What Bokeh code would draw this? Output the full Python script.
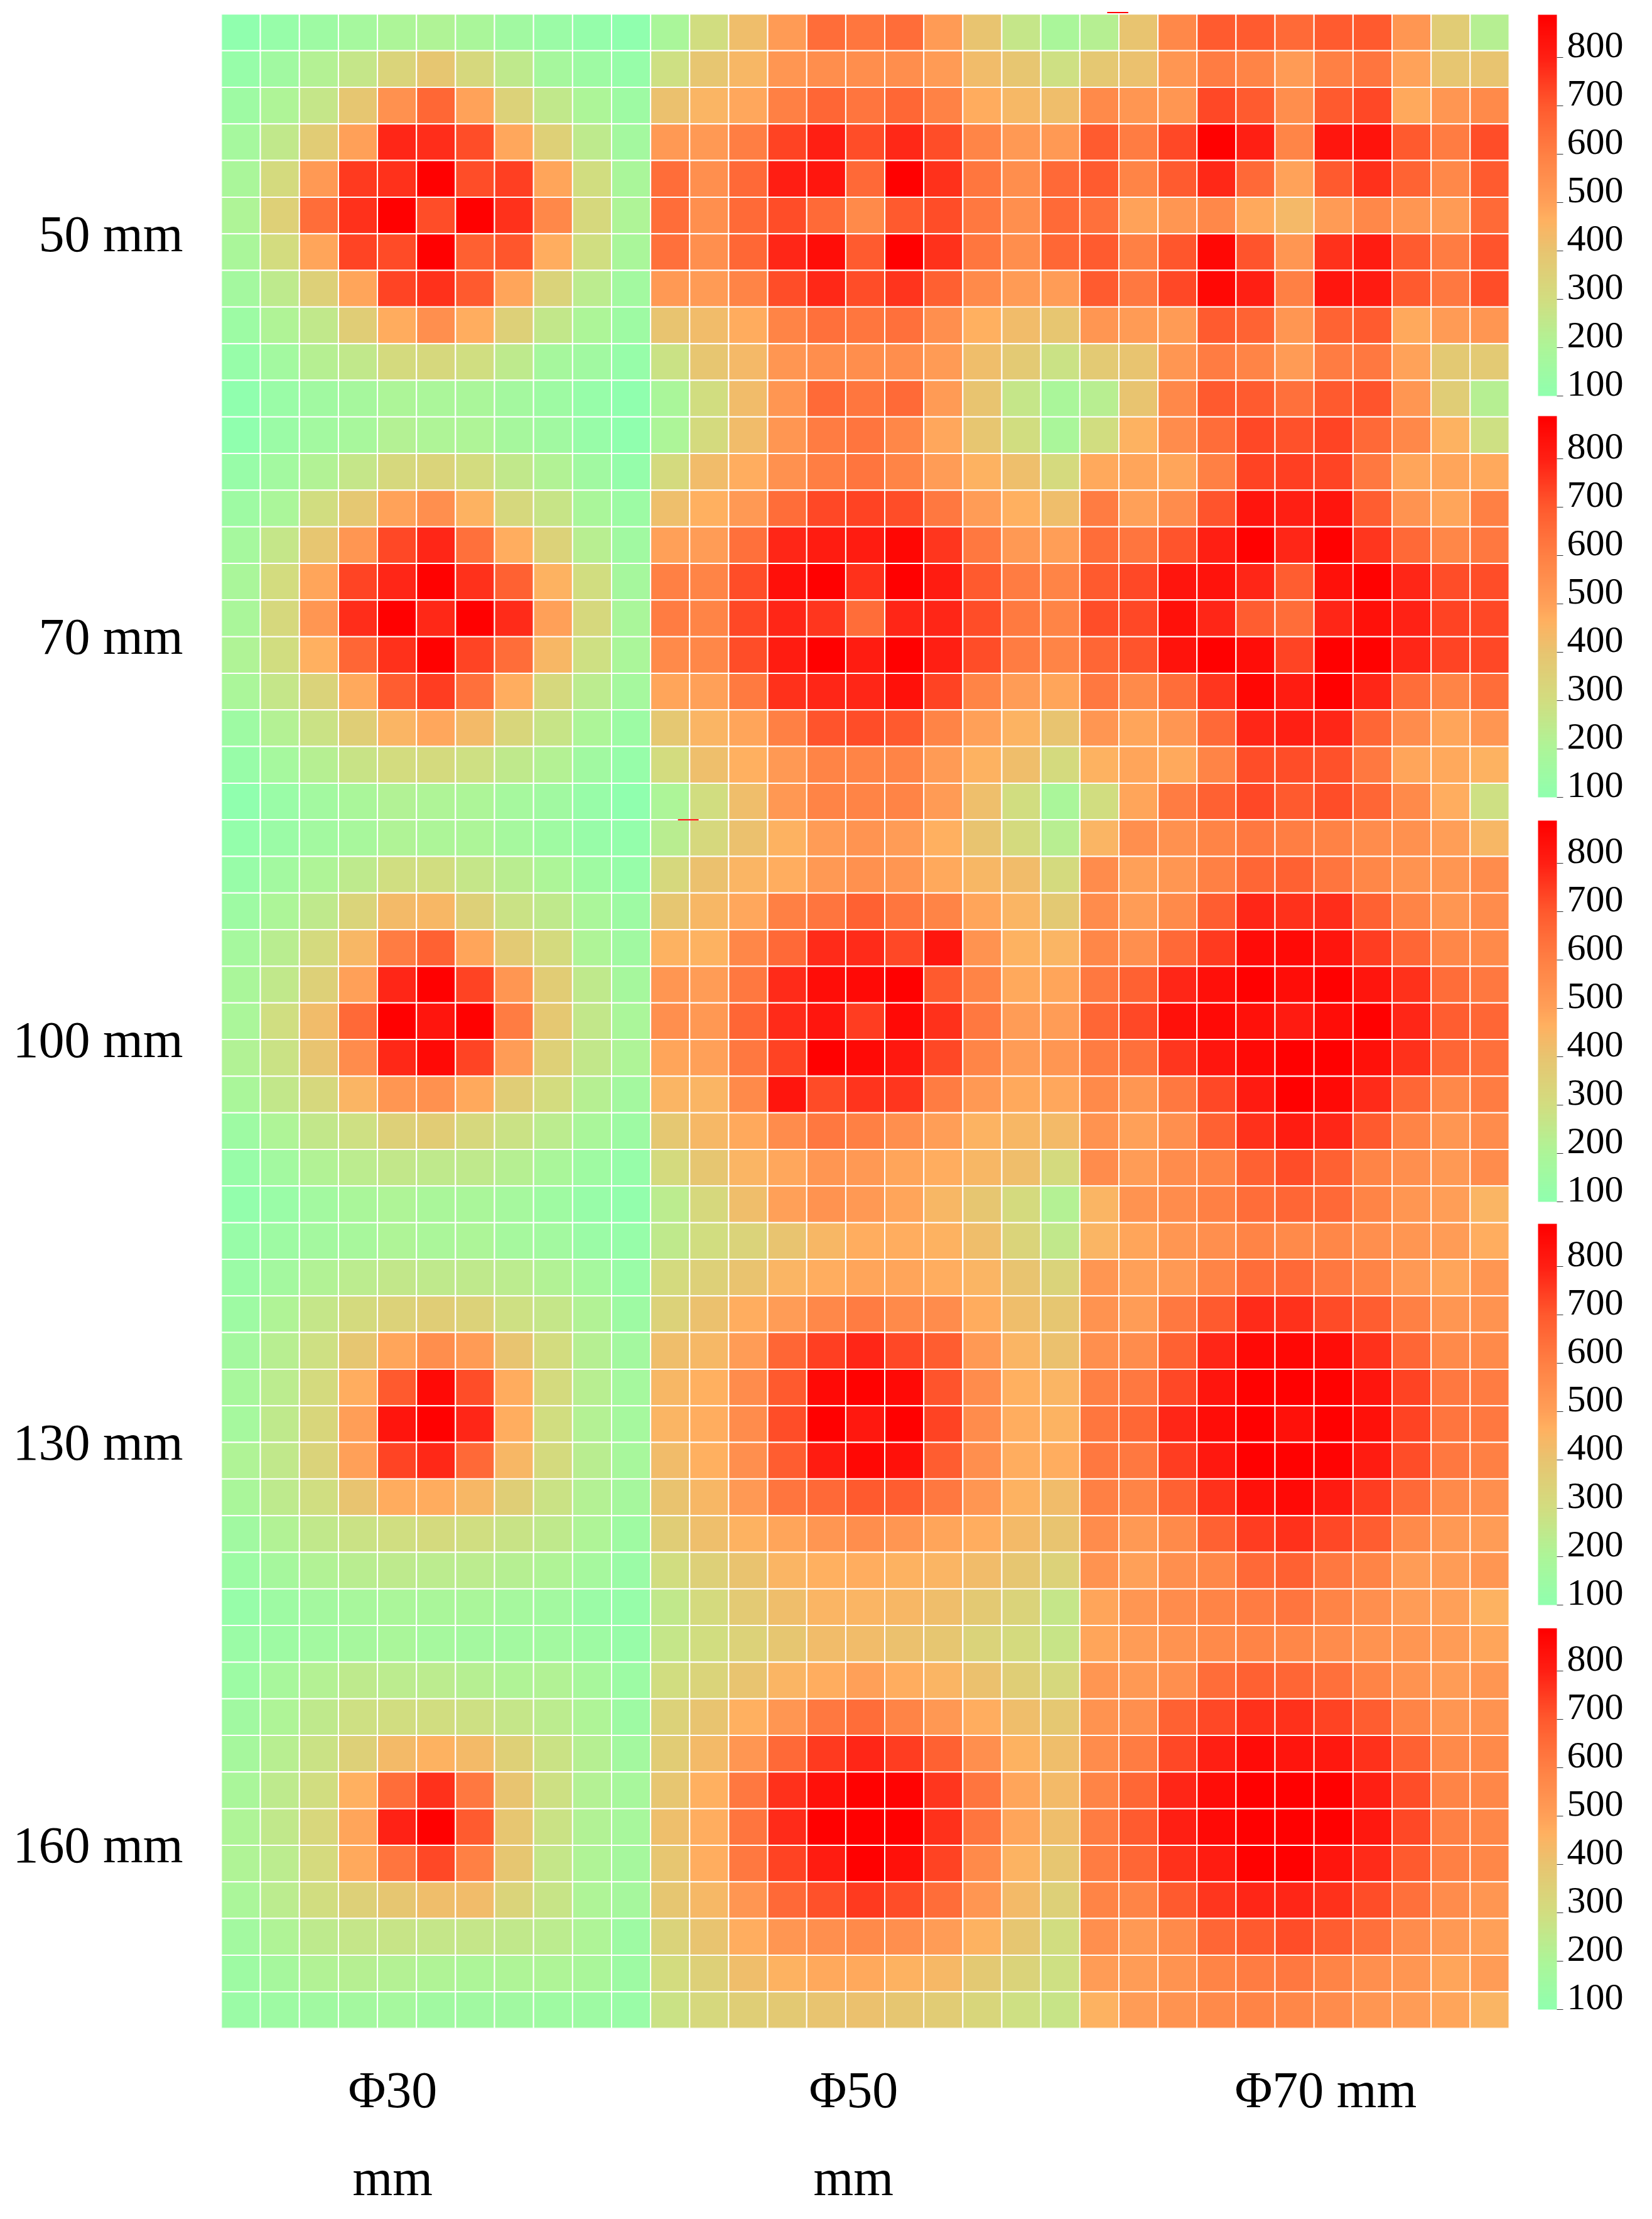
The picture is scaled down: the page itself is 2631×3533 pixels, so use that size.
import numpy as np
from bokeh.embed import file_html
from bokeh.models import (ColorBar, ColumnDataSource, FixedTicker, LinearAxis,
                          LinearColorMapper, Range1d)
from bokeh.plotting import figure
from bokeh.resources import INLINE
from bokeh.transform import transform

# rows run top to bottom, columns left to right inside one diameter block
h50_d30 = [
    [100, 125, 150, 175, 200, 210, 190, 160, 140, 120, 100],
    [125, 160, 220, 265, 335, 390, 320, 250, 180, 150, 125],
    [150, 205, 265, 390, 545, 665, 495, 345, 255, 200, 150],
    [175, 255, 370, 500, 790, 775, 720, 485, 355, 245, 170],
    [190, 310, 520, 755, 770, 885, 720, 745, 490, 300, 190],
    [205, 355, 650, 770, 885, 720, 885, 770, 575, 320, 205],
    [190, 305, 490, 735, 725, 885, 685, 705, 470, 295, 190],
    [170, 245, 350, 490, 735, 770, 700, 490, 340, 240, 165],
    [145, 210, 255, 365, 475, 550, 470, 350, 260, 200, 150],
    [125, 165, 225, 255, 310, 320, 295, 245, 180, 160, 125],
    [100, 135, 160, 180, 200, 195, 190, 170, 150, 125, 100],
]
h50_d50 = [
    [190, 300, 420, 515, 650, 625, 650, 515, 400, 265, 190],
    [290, 395, 445, 530, 555, 555, 555, 515, 425, 395, 290],
    [410, 450, 485, 600, 670, 630, 665, 595, 475, 440, 420],
    [520, 520, 605, 740, 800, 720, 785, 720, 585, 520, 520],
    [650, 550, 660, 805, 825, 660, 885, 770, 625, 555, 660],
    [650, 550, 655, 720, 655, 570, 700, 720, 620, 550, 655],
    [640, 550, 665, 790, 850, 695, 885, 770, 625, 555, 665],
    [520, 515, 590, 720, 785, 720, 765, 685, 570, 515, 510],
    [400, 425, 475, 590, 640, 625, 640, 550, 465, 425, 395],
    [280, 395, 435, 530, 555, 555, 555, 515, 420, 375, 280],
    [190, 300, 425, 530, 655, 625, 655, 515, 400, 265, 190],
]
h50_d70 = [
    [225, 400, 575, 695, 695, 655, 695, 700, 530, 370, 225],
    [385, 410, 530, 610, 590, 515, 600, 630, 495, 395, 400],
    [570, 530, 530, 730, 695, 555, 700, 730, 480, 530, 570],
    [695, 610, 730, 885, 800, 585, 825, 835, 700, 610, 720],
    [695, 590, 695, 785, 660, 495, 700, 770, 675, 575, 695],
    [640, 495, 530, 575, 480, 435, 515, 575, 530, 515, 655],
    [695, 600, 705, 865, 710, 530, 770, 810, 695, 610, 710],
    [695, 620, 730, 865, 800, 600, 825, 815, 700, 620, 720],
    [530, 515, 515, 695, 675, 530, 675, 695, 480, 515, 530],
    [375, 400, 530, 610, 590, 515, 610, 620, 495, 380, 375],
    [230, 400, 575, 700, 695, 640, 700, 710, 530, 365, 225],
]
h70_d30 = [
    [100, 140, 165, 185, 220, 205, 205, 180, 160, 130, 100],
    [130, 165, 215, 265, 320, 335, 305, 255, 215, 160, 120],
    [150, 195, 300, 385, 495, 550, 460, 320, 270, 190, 145],
    [175, 265, 395, 530, 730, 790, 640, 470, 345, 230, 160],
    [190, 305, 490, 735, 790, 880, 770, 680, 460, 300, 180],
    [190, 320, 530, 775, 885, 785, 885, 780, 500, 320, 190],
    [210, 300, 465, 670, 770, 880, 735, 650, 445, 290, 195],
    [195, 265, 340, 480, 690, 750, 640, 470, 320, 240, 175],
    [150, 220, 280, 360, 450, 485, 430, 330, 270, 200, 145],
    [130, 175, 225, 275, 305, 310, 290, 250, 220, 160, 125],
    [100, 135, 165, 190, 215, 205, 200, 175, 160, 130, 100],
]
h70_d50 = [
    [200, 310, 425, 530, 610, 630, 580, 485, 395, 300, 190],
    [310, 425, 470, 545, 605, 630, 590, 510, 460, 415, 315],
    [415, 465, 520, 650, 730, 740, 720, 620, 510, 465, 420],
    [500, 510, 640, 790, 810, 810, 870, 760, 620, 520, 505],
    [600, 590, 720, 845, 885, 770, 885, 810, 700, 610, 590],
    [610, 590, 730, 790, 760, 650, 790, 790, 720, 615, 590],
    [570, 580, 720, 810, 885, 810, 885, 800, 720, 610, 590],
    [490, 500, 615, 770, 790, 790, 840, 740, 590, 510, 490],
    [385, 450, 490, 600, 710, 720, 700, 590, 500, 455, 400],
    [305, 415, 465, 520, 590, 590, 590, 515, 460, 420, 310],
    [200, 300, 420, 525, 590, 590, 590, 515, 415, 300, 190],
]
h70_d70 = [
    [300, 460, 560, 650, 730, 715, 735, 660, 575, 460, 290],
    [480, 490, 490, 600, 740, 745, 735, 620, 490, 490, 480],
    [610, 500, 560, 710, 830, 800, 830, 690, 540, 490, 600],
    [650, 630, 710, 800, 885, 790, 885, 760, 660, 580, 620],
    [700, 730, 830, 835, 790, 690, 840, 880, 790, 720, 720],
    [720, 730, 840, 790, 690, 650, 790, 840, 795, 740, 730],
    [670, 710, 835, 885, 850, 735, 885, 880, 790, 735, 730],
    [620, 570, 650, 760, 870, 810, 885, 790, 650, 590, 650],
    [530, 490, 530, 660, 790, 800, 790, 670, 560, 490, 530],
    [460, 490, 480, 590, 720, 720, 715, 620, 490, 480, 460],
    [300, 490, 610, 680, 730, 700, 720, 670, 570, 470, 290],
]
h100_d30 = [
    [115, 140, 165, 185, 210, 200, 200, 175, 155, 130, 115],
    [130, 165, 205, 245, 295, 300, 265, 235, 200, 155, 125],
    [150, 200, 250, 335, 430, 445, 350, 280, 250, 195, 150],
    [175, 235, 310, 445, 610, 680, 490, 375, 310, 205, 160],
    [190, 255, 350, 500, 790, 885, 740, 530, 370, 250, 180],
    [195, 295, 425, 660, 885, 830, 880, 610, 385, 260, 195],
    [215, 280, 400, 560, 785, 860, 735, 510, 355, 260, 205],
    [190, 260, 320, 450, 530, 545, 480, 365, 305, 225, 170],
    [150, 205, 260, 290, 350, 370, 320, 280, 240, 190, 150],
    [130, 165, 215, 240, 260, 250, 250, 225, 190, 155, 125],
    [110, 135, 165, 190, 205, 190, 190, 175, 155, 130, 110],
]
h100_d50 = [
    [235, 320, 410, 460, 510, 535, 510, 465, 400, 310, 230],
    [320, 410, 450, 470, 520, 545, 530, 480, 445, 425, 310],
    [390, 445, 485, 600, 630, 680, 625, 590, 490, 450, 380],
    [460, 460, 580, 660, 780, 780, 730, 825, 540, 460, 450],
    [530, 510, 620, 780, 850, 860, 885, 700, 590, 480, 490],
    [550, 525, 670, 780, 825, 750, 860, 770, 620, 510, 510],
    [490, 500, 620, 740, 885, 860, 820, 730, 585, 510, 530],
    [450, 450, 570, 830, 725, 765, 760, 610, 520, 480, 485],
    [385, 440, 480, 560, 620, 600, 550, 505, 455, 445, 430],
    [310, 390, 450, 485, 530, 520, 490, 470, 445, 420, 310],
    [240, 320, 420, 500, 540, 520, 490, 445, 390, 310, 220],
]
h100_d70 = [
    [450, 550, 545, 590, 620, 605, 595, 560, 545, 505, 445],
    [560, 500, 530, 600, 670, 680, 630, 580, 540, 530, 560],
    [560, 510, 570, 690, 790, 770, 775, 680, 590, 530, 560],
    [580, 550, 660, 755, 855, 860, 830, 750, 670, 580, 570],
    [620, 680, 790, 845, 885, 850, 885, 830, 770, 650, 620],
    [670, 730, 840, 860, 840, 815, 850, 885, 790, 690, 670],
    [610, 640, 760, 825, 860, 885, 885, 840, 770, 670, 640],
    [570, 530, 620, 730, 815, 885, 860, 780, 670, 575, 610],
    [540, 500, 550, 680, 770, 810, 790, 700, 590, 530, 560],
    [560, 510, 560, 590, 680, 720, 680, 590, 550, 520, 560],
    [450, 540, 560, 600, 650, 670, 660, 590, 530, 505, 450],
]
h130_d30 = [
    [130, 150, 170, 185, 205, 195, 200, 175, 165, 140, 125],
    [140, 170, 215, 240, 260, 250, 250, 240, 215, 175, 135],
    [150, 210, 265, 310, 345, 365, 345, 290, 265, 215, 150],
    [170, 230, 290, 390, 490, 555, 515, 400, 305, 225, 170],
    [185, 240, 310, 470, 700, 860, 720, 475, 310, 230, 175],
    [175, 250, 330, 505, 830, 885, 790, 470, 300, 220, 175],
    [210, 255, 340, 500, 735, 785, 660, 445, 310, 235, 185],
    [190, 245, 295, 400, 475, 475, 445, 360, 280, 220, 180],
    [160, 215, 255, 280, 295, 310, 295, 275, 250, 205, 155],
    [145, 180, 215, 235, 245, 240, 240, 225, 210, 175, 140],
    [125, 150, 170, 185, 195, 190, 190, 175, 165, 140, 125],
]
h130_d50 = [
    [250, 300, 340, 400, 445, 470, 470, 460, 420, 335, 255],
    [310, 350, 405, 450, 470, 490, 490, 470, 450, 400, 340],
    [345, 410, 470, 510, 575, 610, 570, 560, 475, 420, 390],
    [420, 440, 510, 670, 745, 790, 730, 690, 520, 450, 410],
    [445, 465, 560, 700, 860, 880, 860, 710, 560, 465, 450],
    [450, 470, 560, 720, 885, 820, 885, 740, 560, 470, 455],
    [425, 465, 550, 690, 810, 865, 840, 690, 550, 470, 470],
    [405, 445, 520, 630, 660, 700, 690, 620, 530, 460, 425],
    [365, 415, 460, 490, 530, 555, 530, 490, 470, 430, 400],
    [300, 350, 405, 450, 465, 470, 460, 450, 425, 390, 345],
    [255, 310, 375, 420, 450, 450, 445, 420, 380, 340, 265],
]
h130_d70 = [
    [450, 490, 530, 550, 590, 570, 580, 550, 530, 510, 470],
    [530, 500, 520, 590, 650, 660, 620, 590, 520, 490, 530],
    [540, 510, 620, 700, 780, 770, 725, 690, 600, 530, 540],
    [550, 560, 680, 790, 860, 865, 850, 770, 670, 570, 570],
    [600, 620, 730, 830, 880, 885, 880, 830, 740, 620, 610],
    [625, 665, 790, 850, 885, 840, 885, 840, 740, 630, 620],
    [620, 620, 750, 820, 885, 880, 875, 810, 720, 620, 600],
    [600, 590, 680, 770, 840, 860, 815, 750, 660, 570, 550],
    [560, 520, 570, 680, 750, 770, 730, 690, 570, 520, 510],
    [540, 500, 550, 580, 660, 680, 620, 590, 510, 510, 530],
    [490, 530, 560, 590, 610, 630, 590, 550, 510, 500, 460],
]
h160_d30 = [
    [140, 150, 165, 180, 190, 175, 170, 165, 165, 150, 130],
    [145, 185, 220, 245, 240, 240, 225, 210, 215, 185, 145],
    [160, 205, 250, 290, 300, 300, 285, 265, 240, 205, 150],
    [180, 230, 280, 350, 430, 460, 430, 355, 280, 225, 170],
    [190, 245, 300, 465, 650, 770, 620, 400, 285, 220, 185],
    [205, 255, 325, 490, 795, 885, 695, 395, 280, 215, 185],
    [210, 240, 315, 480, 630, 730, 600, 390, 265, 210, 180],
    [195, 240, 300, 350, 390, 420, 425, 335, 270, 205, 180],
    [165, 210, 245, 265, 270, 265, 265, 255, 240, 205, 150],
    [150, 180, 215, 225, 220, 210, 200, 205, 205, 190, 150],
    [140, 150, 160, 170, 175, 160, 160, 160, 155, 150, 135],
]
h160_d50 = [
    [265, 300, 345, 390, 425, 425, 410, 390, 340, 310, 270],
    [300, 335, 400, 450, 470, 500, 470, 450, 410, 360, 320],
    [345, 400, 465, 530, 620, 650, 590, 525, 470, 420, 385],
    [370, 430, 530, 660, 755, 790, 750, 680, 550, 460, 420],
    [395, 465, 620, 770, 840, 880, 875, 760, 630, 490, 430],
    [415, 470, 630, 780, 885, 885, 885, 770, 630, 490, 420],
    [395, 470, 620, 740, 810, 885, 840, 740, 570, 455, 395],
    [390, 440, 530, 660, 715, 755, 720, 650, 530, 430, 350],
    [340, 400, 470, 530, 550, 570, 550, 510, 460, 390, 300],
    [305, 350, 420, 460, 480, 480, 460, 440, 380, 340, 290],
    [280, 320, 360, 380, 400, 410, 390, 370, 330, 290, 270],
]
h160_d70 = [
    [490, 510, 540, 570, 590, 580, 560, 540, 530, 510, 490],
    [530, 520, 550, 650, 680, 670, 640, 590, 540, 510, 530],
    [540, 550, 680, 730, 770, 770, 740, 690, 590, 530, 540],
    [560, 610, 730, 800, 855, 830, 820, 770, 680, 570, 570],
    [590, 665, 790, 850, 885, 885, 885, 800, 720, 590, 580],
    [610, 695, 800, 860, 885, 885, 885, 820, 730, 600, 580],
    [610, 670, 770, 810, 880, 885, 830, 780, 700, 600, 580],
    [590, 590, 700, 760, 790, 790, 770, 720, 640, 560, 530],
    [550, 520, 570, 670, 700, 720, 690, 640, 560, 520, 500],
    [510, 510, 540, 590, 610, 620, 590, 550, 530, 490, 510],
    [460, 510, 540, 570, 590, 580, 560, 530, 510, 490, 450],
]

height_labels = ["50 mm", "70 mm", "100 mm", "130 mm", "160 mm"]
diameter_labels = ["Φ30", "Φ50", "Φ70 mm"]
colorbar_ticks = [100, 200, 300, 400, 500, 600, 700, 800]

# two stray red dashes on the block edges
stray_x0 = [22.7, 11.7]
stray_x1 = [23.24, 12.23]
stray_y = [-0.04, 22.0]

# colour scale
SCALE_LOW = 100
SCALE_HIGH = 889
SCALE_STOPS = [100, 200, 300, 400, 465, 500, 600, 700, 800, 889]
SCALE_COLORS = ["#90ffae", "#adf598", "#d2dd80", "#e8c470", "#ffb060",
                "#ffa058", "#ff8044", "#ff5a2e", "#ff2014", "#ff0000"]


def make_palette(n=256):
    levels = np.linspace(SCALE_LOW, SCALE_HIGH, n)
    rgb = np.array([[int(c[i:i + 2], 16) for i in (1, 3, 5)] for c in SCALE_COLORS])
    channels = [np.interp(levels, SCALE_STOPS, rgb[:, k]) for k in range(3)]
    return ["#%02x%02x%02x" % (round(r), round(g), round(b)) for r, g, b in zip(*channels)]


blocks = [
    [h50_d30, h50_d50, h50_d70],
    [h70_d30, h70_d50, h70_d70],
    [h100_d30, h100_d50, h100_d70],
    [h130_d30, h130_d50, h130_d70],
    [h160_d30, h160_d50, h160_d70],
]
grid = np.vstack([np.hstack(row) for row in blocks])
n_rows, n_cols = grid.shape
row_idx, col_idx = np.indices(grid.shape)
source = ColumnDataSource({
    "x": col_idx.ravel() + 0.5,
    "y": row_idx.ravel() + 0.5,
    "value": grid.ravel(),
})

mapper = LinearColorMapper(palette=make_palette(), low=SCALE_LOW, high=SCALE_HIGH)

FONT = "Liberation Serif"

p = figure(
    frame_width=2051,
    frame_height=3213,
    x_range=Range1d(0, n_cols),
    y_range=Range1d(n_rows, -0.1),
    output_backend="svg",
    toolbar_location=None,
    min_border_left=352,
    min_border_right=212,
    min_border_top=16,
    min_border_bottom=296,
    x_axis_location=None,
    y_axis_location=None,
    outline_line_color=None,
)
p.grid.visible = False

p.rect("x", "y", width=1, height=1, source=source,
       fill_color=transform("value", mapper), line_color="white", line_width=2)
p.segment(stray_x0, stray_y, stray_x1, stray_y, line_color="red", line_width=2)

# height labels sit half a row below the middle of each block
y_ticks = [6, 17, 28, 39, 50]
left_axis = LinearAxis(
    ticker=FixedTicker(ticks=y_ticks),
    major_label_overrides=dict(zip(y_ticks, height_labels)),
)
x_ticks = [4.39, 16.2, 28.3]
bottom_axis = LinearAxis(
    ticker=FixedTicker(ticks=x_ticks),
    major_label_overrides=dict(zip(x_ticks, diameter_labels)),
)
mm_ticks = [4.39, 16.2]
mm_axis = LinearAxis(
    ticker=FixedTicker(ticks=mm_ticks),
    major_label_overrides={t: "mm" for t in mm_ticks},
)
for axis in (left_axis, bottom_axis, mm_axis):
    axis.axis_line_color = None
    axis.major_tick_line_color = None
    axis.minor_tick_line_color = None
    axis.major_label_text_font = FONT
    axis.major_label_text_font_size = "82px"
    axis.major_label_text_color = "black"
left_axis.major_label_standoff = 55
bottom_axis.major_label_standoff = 46
mm_axis.major_label_standoff = 40
p.add_layout(left_axis, "left")
p.add_layout(bottom_axis, "below")
p.add_layout(mm_axis, "below")


def make_colorbar(bottom, **kwargs):
    return ColorBar(
        color_mapper=mapper,
        ticker=FixedTicker(ticks=colorbar_ticks),
        location=(2097, bottom),
        width=30,
        height=607,
        padding=0,
        margin=0,
        bar_line_color=None,
        border_line_color=None,
        background_fill_color=None,
        major_tick_in=0,
        major_tick_out=10,
        minor_tick_line_color=None,
        label_standoff=6,
        major_label_text_font=FONT,
        major_label_text_font_size="60px",
        major_label_text_color="black",
        **kwargs,
    )


# the numbers sit above their ticks, which ColorBar can't do by itself,
# so a second see-through bar carries the labels a little higher
LABEL_LIFT = 20
colorbar_bottoms = [2599, 1960, 1316, 674, 30]
for bottom in colorbar_bottoms:
    p.add_layout(make_colorbar(bottom, major_tick_line_color="#333333",
                               major_label_text_alpha=0), "center")
    p.add_layout(make_colorbar(bottom + LABEL_LIFT, major_tick_line_color=None,
                               scale_alpha=0), "center")

open("out.html", "w").write(file_html(p, INLINE))
